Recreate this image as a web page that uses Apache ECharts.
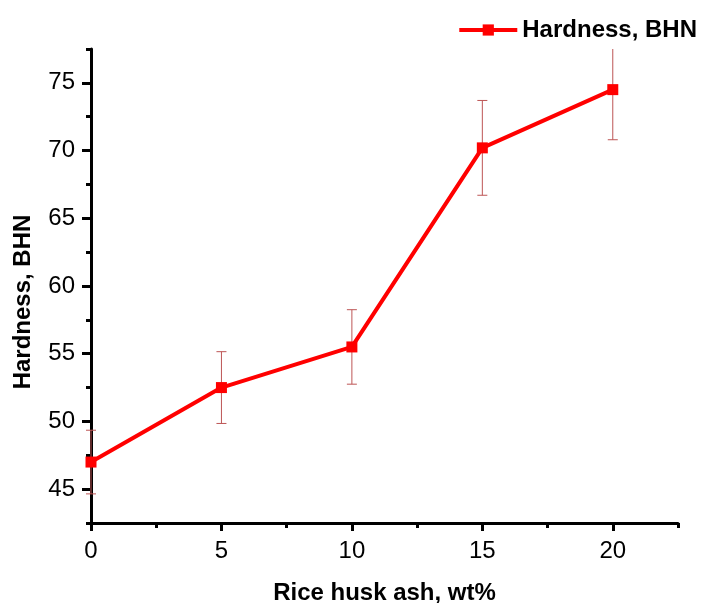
<!DOCTYPE html>
<html>
<head>
<meta charset="utf-8">
<script src="https://cdn.jsdelivr.net/npm/echarts@6/dist/echarts.min.js"></script>
<style>
html,body{margin:0;padding:0;background:#fff;}
#chart{width:702px;height:603px;}
</style>
</head>
<body>
<div id="chart"></div>
<script>
// ---- data ----
var xValues = [0, 5, 10, 15, 20];
var hardness = [47.0, 52.5, 55.5, 70.2, 74.5];
var errors = [2.35, 2.65, 2.75, 3.5, 3.7];
var xMajorTicks = [0, 5, 10, 15, 20];
var xMinorTicks = [2.5, 7.5, 12.5, 17.5, 22.5];
var yMajorTicks = [45, 50, 55, 60, 65, 70, 75];
var yMinorTicks = [42.5, 47.5, 52.5, 57.5, 62.5, 67.5, 72.5, 77.5];
var seriesName = 'Hardness, BHN';
var xTitle = 'Rice husk ash, wt%';
var yTitle = 'Hardness, BHN';

var lineData = xValues.map(function (x, i) { return [x, hardness[i]]; });
var errData = xValues.map(function (x, i) { return [x, hardness[i] - errors[i], hardness[i] + errors[i]]; });

var FONT = '"Liberation Sans", Arial, sans-serif';
var AXIS_COLOR = '#000';

var chart = echarts.init(document.getElementById('chart'), null, {renderer: 'canvas'});

function baseAxis(extra) {
  var o = {
    type: 'value',
    axisLine: {show: true, onZero: false, lineStyle: {color: AXIS_COLOR, width: 3}},
    splitLine: {show: false}
  };
  for (var k in extra) o[k] = extra[k];
  return o;
}

var option = {
  animation: false,
  backgroundColor: '#fff',
  grid: {left: 91, right: 24, top: 49, bottom: 80, containLabel: false, outerBoundsMode: 'none'},
  legend: {
    show: true,
    right: 0,
    top: 13,
    itemWidth: 58,
    itemHeight: 14,
    itemGap: 6,
    data: [seriesName],
    lineStyle: {width: 4, color: '#ff0000'},
    textStyle: {fontFamily: FONT, fontSize: 24, fontWeight: 'bold', color: '#000'}
  },
  xAxis: [
    baseAxis({
      min: 0, max: 22.5,
      position: 'bottom',
      name: xTitle,
      nameLocation: 'middle',
      nameGap: 58,
      nameTextStyle: {fontFamily: FONT, fontSize: 24, fontWeight: 'bold', color: '#000'},
      axisTick: {show: true, inside: false, length: 8, customValues: xMajorTicks, lineStyle: {color: AXIS_COLOR, width: 3}},
      axisLabel: {show: true, margin: 16, customValues: xMajorTicks, fontFamily: FONT, fontSize: 24, color: '#000'}
    }),
    baseAxis({
      min: 0, max: 22.5,
      position: 'bottom',
      axisLine: {show: false},
      axisTick: {show: true, inside: false, length: 5, customValues: xMinorTicks, lineStyle: {color: AXIS_COLOR, width: 3}},
      axisLabel: {show: false}
    })
  ],
  yAxis: [
    baseAxis({
      min: 42.5, max: 77.5,
      position: 'left',
      name: yTitle,
      nameLocation: 'middle',
      nameGap: 56,
      nameTextStyle: {fontFamily: FONT, fontSize: 24, fontWeight: 'bold', color: '#000', padding: [0, 32, 0, 0]},
      axisTick: {show: true, inside: false, length: 9, customValues: yMajorTicks, lineStyle: {color: AXIS_COLOR, width: 3}},
      axisLabel: {show: true, margin: 16, customValues: yMajorTicks, fontFamily: FONT, fontSize: 24, color: '#000'}
    }),
    baseAxis({
      min: 42.5, max: 77.5,
      position: 'left',
      axisLine: {show: false},
      axisTick: {show: true, inside: false, length: 5, customValues: yMinorTicks, lineStyle: {color: AXIS_COLOR, width: 3}},
      axisLabel: {show: false}
    })
  ],
  series: [
    {
      type: 'custom',
      name: 'err',
      xAxisIndex: 0,
      yAxisIndex: 0,
      z: 1,
      silent: true,
      data: errData,
      renderItem: function (params, api) {
        var x = api.value(0);
        var lo = api.coord([x, api.value(1)]);
        var hi = api.coord([x, api.value(2)]);
        var cs = params.coordSys;
        var top = cs.y, bottom = cs.y + cs.height;
        var hiY = Math.max(hi[1], top);
        var loY = Math.min(lo[1], bottom);
        var capW = 5;
        var style = {stroke: '#bd5555', lineWidth: 1, fill: null};
        var children = [
          {type: 'line', shape: {x1: lo[0], y1: hiY, x2: lo[0], y2: loY}, style: style}
        ];
        if (hi[1] >= top) children.push({type: 'line', shape: {x1: hi[0] - capW, y1: hi[1], x2: hi[0] + capW, y2: hi[1]}, style: style});
        if (lo[1] <= bottom) children.push({type: 'line', shape: {x1: lo[0] - capW, y1: lo[1], x2: lo[0] + capW, y2: lo[1]}, style: style});
        return {type: 'group', children: children};
      }
    },
    {
      type: 'line',
      name: seriesName,
      xAxisIndex: 0,
      yAxisIndex: 0,
      z: 2,
      data: lineData,
      symbol: 'rect',
      symbolSize: 11,
      showAllSymbol: true,
      lineStyle: {color: '#ff0000', width: 4},
      itemStyle: {color: '#ff0000'},
      clip: false
    }
  ]
};
chart.setOption(option);
</script>
</body>
</html>
